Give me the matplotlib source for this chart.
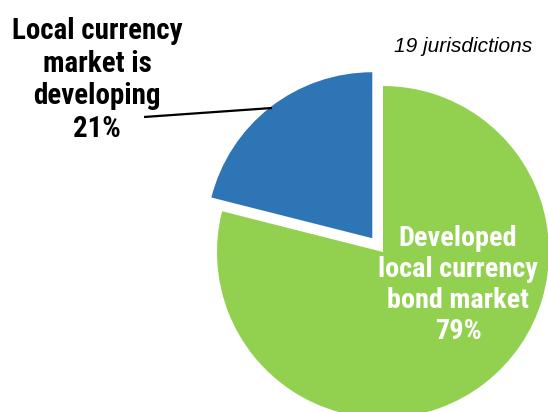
import matplotlib
matplotlib.use("Agg")
import matplotlib.pyplot as plt

# Share of jurisdictions by state of local currency bond market
labels = ['Developed\nlocal currency\nbond market\n79%', 'Local currency\nmarket is\ndeveloping\n21%']
counts = [15, 4]
colors = ['#92D050', '#2E75B6']
note = '19 jurisdictions'

W, H = 548, 412
fig = plt.figure(figsize=(W / 100, H / 100), dpi=100)
ax = fig.add_axes([0, 0, 1, 1])

ax.pie(counts, colors=colors, startangle=90, counterclock=False,
       explode=[0, 0.105], radius=1, center=(0, 0),
       wedgeprops={'linewidth': 0})

# pixel layout: pie centre at (383, 252), radius 166 px
r_px = 166
cx, cy = 383, 252
ax.set_xlim(-cx / r_px, (W - cx) / r_px)
ax.set_ylim(-(H - cy) / r_px, cy / r_px)
ax.set_aspect('equal')
ax.axis('off')


def fx(x):
    return x / W


def fy(y):
    return 1 - y / H


narrow = ['Liberation Sans Narrow', 'Roboto Condensed', 'DejaVu Sans Condensed',
          'Roboto', 'DejaVu Sans']
bold = dict(family=narrow, weight='bold', ha='center', va='center',
            linespacing=1.2)

renderer = fig.canvas.get_renderer()


def fit_text(x, y, s, width, color):
    # size the label so its widest line spans the given pixel width
    t = fig.text(fx(x), fy(y), s, color=color, fontsize=20, **bold)
    w = t.get_window_extent(renderer).width
    t.set_fontsize(20 * width / w)
    return t


fit_text(97, 80, labels[1], 171, 'black')
fit_text(458, 285, labels[0], 160, 'white')

fig.text(fx(463), fy(47), note, style='italic', fontsize=15,
         family=['Liberation Sans', 'DejaVu Sans'], ha='center', va='center')

# leader line to the developing slice
ax.plot([fx(144), fx(272)], [fy(117), fy(108)], transform=fig.transFigure,
        color='black', lw=1.6, solid_capstyle='butt')

fig.savefig('out.png', dpi=100)
